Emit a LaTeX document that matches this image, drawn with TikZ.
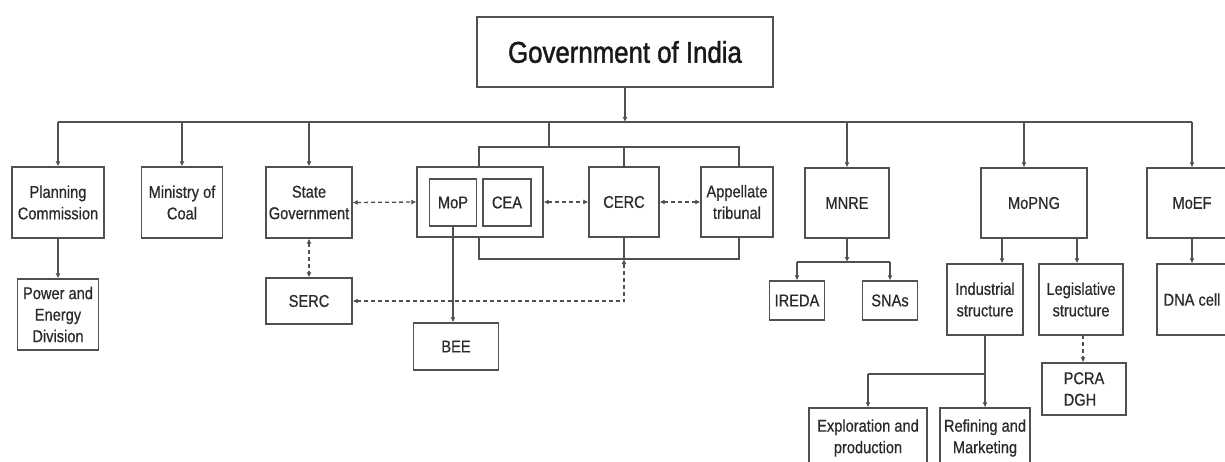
\documentclass[tikz,border=0pt]{standalone}
\usepackage{fontspec}
\setmainfont{Liberation Sans}[FakeStretch=0.86]
\newfontfamily\titlefont{Liberation Sans}[FakeStretch=0.86, FakeBold=1.5]
\newfontfamily\boxfont{Liberation Sans}[FakeStretch=0.86, FakeBold=0.6]
\usetikzlibrary{arrows.meta,calc}
\definecolor{ln}{HTML}{505050}
\definecolor{tx}{HTML}{2a2a2a}
\tikzset{
  box/.style={draw=ln, line width=1.3pt, inner sep=0pt, align=center, text=tx,
    font=\boxfont\fontsize{17}{21.5}\selectfont},
  con/.style={draw=ln, line width=1.3pt},
  arr/.style={con, -{Latex[length=5pt,width=5pt]}},
  darr/.style={con, dashed, dash pattern=on 4pt off 3pt, {Latex[length=5pt,width=5pt]}-{Latex[length=5pt,width=5pt]}},
  sarr/.style={con, dashed, dash pattern=on 4pt off 3pt, -{Latex[length=5pt,width=5pt]}},
}
\begin{document}
\begin{tikzpicture}[x=1pt,y=-1pt]
\useasboundingbox (0,0) rectangle (1225,461);
\clip (0,0) rectangle (1225,461);
\fill[white] (0,0) rectangle (1225,461);
% nodes
\node[box, minimum width=296pt, minimum height=70pt, font=\titlefont\fontsize{30}{34}\selectfont, text=black!90] (gov) at (625,52) {Government of India};
\node[box, minimum width=92pt, minimum height=71pt] (pc) at (58,202.5) {Planning\\Commission};
\node[box, minimum width=81pt, minimum height=71pt] (ped) at (58,314.5) {Power and\\Energy\\Division};
\node[box, minimum width=81pt, minimum height=71pt] (coal) at (182,202.5) {Ministry of\\Coal};
\node[box, minimum width=86pt, minimum height=71pt] (sg) at (309,202.5) {State\\Government};
\node[box, minimum width=86pt, minimum height=46pt] (serc) at (309,301) {SERC};
\node[box, minimum width=126pt, minimum height=70pt] (outer) at (480,202) {};
\node[box, minimum width=47pt, minimum height=47pt] (mop) at (453,202.5) {MoP};
\node[box, minimum width=48pt, minimum height=47pt] (cea) at (507,202.5) {CEA};
\node[box, minimum width=70pt, minimum height=70pt] (cerc) at (624,202) {CERC};
\node[box, minimum width=72pt, minimum height=70pt] (app) at (737,202) {Appellate\\tribunal};
\node[box, minimum width=85pt, minimum height=47pt] (bee) at (456,346.5) {BEE};
\node[box, minimum width=84pt, minimum height=70pt] (mnre) at (847,203) {MNRE};
\node[box, minimum width=55pt, minimum height=39pt] (ireda) at (797,300.5) {IREDA};
\node[box, minimum width=55pt, minimum height=39pt] (snas) at (890,300.5) {SNAs};
\node[box, minimum width=106pt, minimum height=70pt] (mopng) at (1034,203) {MoPNG};
\node[box, minimum width=76pt, minimum height=71pt] (ind) at (985,299.5) {Industrial\\structure};
\node[box, minimum width=84pt, minimum height=71pt] (leg) at (1081,299.5) {Legislative\\structure};
\node[box, minimum width=84pt, minimum height=52pt, align=left] (pcra) at (1084,389) {PCRA\\DGH};
\node[box, minimum width=90pt, minimum height=70pt] (moef) at (1192,203) {MoEF};
\node[box, minimum width=70pt, minimum height=71pt] (dna) at (1192,299.5) {DNA cell};
\node[box, minimum width=118pt, minimum height=60pt] (expl) at (868,438) {Exploration and\\production};
\node[box, minimum width=90pt, minimum height=60pt] (ref) at (985,438) {Refining and\\Marketing};
% bus
\coordinate (busL) at (58,122);
\coordinate (busR) at (1192,122);
\coordinate (busG) at (625,122);
\draw[arr] (gov.south) -- (busG);
\draw[con] (busL) -- (busR);
\coordinate (bcoal) at (182,122);
\coordinate (bsg) at (309,122);
\coordinate (bbr) at (549,122);
\coordinate (bmnre) at (847,122);
\coordinate (bmopng) at (1024,122);
\draw[arr] (busL) -- (pc.north);
\draw[arr] (bcoal) -- (coal.north);
\draw[arr] (bsg) -- (sg.north);
\draw[arr] (bmnre) -- (mnre.north);
\draw[arr] (bmopng) -- (bmopng |- mopng.north);
\draw[arr] (busR) -- (moef.north);
\draw[arr] (pc.south) -- (ped.north);
% brackets
\coordinate (tL) at (479,147);
\coordinate (tC) at (624,147);
\coordinate (tR) at (739,147);
\coordinate (lL) at (479,259);
\coordinate (lC) at (624,259);
\coordinate (lR) at (739,259);
\draw[con] (bbr) -- (bbr |- tL);
\draw[con] (tL |- outer.north) -- (tL) -- (tR) -- (tR |- app.north);
\draw[con] (tC) -- (cerc.north);
\draw[con] (lL |- outer.south) -- (lL) -- (lR) -- (lR |- app.south);
\draw[con] (cerc.south) -- (lC);
% dashed links
\draw[darr] (sg.east) -- (outer.west);
\draw[darr] (outer.east) -- (cerc.west);
\draw[darr] (cerc.east) -- (app.west);
\draw[darr] (sg.south) -- (serc.north);
\draw[darr] (lC) -- (lC |- serc.east) -- (serc.east);
\draw[arr] (mop.south) -- (mop.south |- bee.north);
% MNRE
\coordinate (mj) at (847,262);
\draw[arr] (mnre.south) -- (mj);
\draw[con] (ireda.north |- mj) -- (snas.north |- mj);
\draw[arr] (ireda.north |- mj) -- (ireda.north);
\draw[arr] (snas.north |- mj) -- (snas.north);
% MoPNG
\coordinate (mi) at (1002,238);
\coordinate (ml) at (1077,238);
\draw[arr] (mi) -- (mi |- ind.north);
\draw[arr] (ml) -- (ml |- leg.north);
\coordinate (ld) at (1083,335);
\draw[sarr] (ld) -- (ld |- pcra.north);
\coordinate (ij) at (985,374);
\draw[con] (ind.south) -- (ij);
\draw[con] (ij) -- (expl.north |- ij);
\draw[arr] (expl.north |- ij) -- (expl.north);
\draw[arr] (ij) -- (ref.north);
\draw[arr] (moef.south) -- (dna.north);
\end{tikzpicture}
\end{document}
